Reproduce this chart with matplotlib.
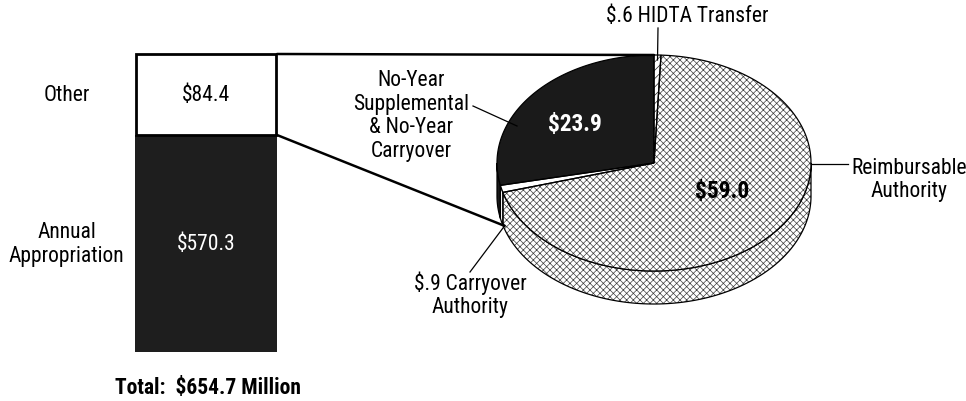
import numpy as np
import matplotlib
matplotlib.use("Agg")
import matplotlib.pyplot as plt
from matplotlib.patches import Polygon, ConnectionPatch
from matplotlib import font_manager

# ---------------- data ----------------
bar_labels = ["Annual\nAppropriation", "Other"]
bar_values = [570.3, 84.4]
bar_value_text = ["$570.3", "$84.4"]
total_text = "Total:  $654.7 Million"

pie_labels = ["$.6 HIDTA Transfer", "Reimbursable\nAuthority",
              "$.9 Carryover\nAuthority",
              "No-Year\nSupplemental\n& No-Year\nCarryover"]
pie_values = [0.6, 59.0, 0.9, 23.9]
pie_value_text = ["", "$59.0", "", "$23.9"]

# ---------------- style ----------------
names = {f.name for f in font_manager.fontManager.ttflist}
fam = "DejaVu Sans"
for cand in ["Roboto Condensed", "Archivo Narrow", "PT Sans Narrow",
             "Barlow Semi Condensed", "Liberation Sans"]:
    if cand in names:
        fam = cand
        break
plt.rcParams["font.family"] = [fam, "DejaVu Sans"]
plt.rcParams["hatch.linewidth"] = 0.5
FS = 15.5
FSB = 16.8
LS = 1.15

W, H = 966, 402
fig = plt.figure(figsize=(W / 100, H / 100), dpi=100)
ax0 = fig.add_axes([0, 0, 1, 1])
ax0.set_xlim(0, W)
ax0.set_ylim(H, 0)
ax0.axis("off")

# ---------------- stacked bar ----------------
annual, other = bar_values
total = sum(bar_values)
bx0, bx1, by0, by1 = 135, 277, 55, 353      # pixel box of the bar
split = 217.0 / 298.0                          # display share of bottom segment

def fwd(y):
    y = np.asarray(y, dtype=float)
    return np.where(y <= annual, y / annual * split,
                    split + (y - annual) / other * (1 - split))

def inv(z):
    z = np.asarray(z, dtype=float)
    return np.where(z <= split, z / split * annual,
                    annual + (z - split) / (1 - split) * other)

axb = fig.add_axes([bx0 / W, (H - by1) / H, (bx1 - bx0) / W, (by1 - by0) / H])
axb.set_yscale("function", functions=(fwd, inv))
axb.set_xlim(-0.5, 0.5)
axb.set_ylim(0, total)
axb.axis("off")
axb.bar(0, annual, width=1.0, color="#1e1e1e", edgecolor="#1e1e1e", linewidth=0)
axb.bar(0, other, bottom=annual, width=0.985, color="white", edgecolor="black",
        linewidth=2, clip_on=False)
axb.text(0, annual / 2, bar_value_text[0], ha="center", va="center",
         color="white", fontsize=FS)
axb.text(0, annual + other / 2, bar_value_text[1], ha="center", va="center",
         color="black", fontsize=FS)
# category labels left of the bar
axb.text(-0.98, annual / 2, bar_labels[0], ha="center", va="center",
         fontsize=FS, linespacing=LS)
axb.text(-0.98, annual + other / 2, bar_labels[1], ha="center", va="center",
         fontsize=FS)
ax0.text(115, 388, total_text, ha="left", va="center", fontsize=FS,
         fontweight="bold")

# ---------------- 3D pie ----------------
CX, CY, A, B, DEPTH = 654, 164, 157, 108, 33

def pts(t1, t2, dz=0.0, n=None):
    if n is None:
        n = max(2, int(abs(t2 - t1) * 2) + 2)
    t = np.radians(np.linspace(t1, t2, n))
    return np.column_stack([CX + A * np.cos(t), CY - B * np.sin(t) + dz])

ptot = sum(pie_values)
spans = []
cur = 90.0
for v in pie_values:
    t2 = cur
    t1 = cur - v / ptot * 360.0
    spans.append((t1, t2))
    cur = t1

styles = [
    dict(fc="white", hatch="////", hc="#222222"),
    dict(fc="white", hatch="xxxxx", hc="#404040"),
    dict(fc="white", hatch=None, hc=None),
    dict(fc="#1a1a1a", hatch=None, hc=None),
]

def add_poly(xy, st, z):
    ax0.add_patch(Polygon(xy, closed=True, facecolor=st["fc"],
                          edgecolor=st["hc"] if st["hatch"] else "none",
                          hatch=st["hatch"], linewidth=0, zorder=z))
    ax0.add_patch(Polygon(xy, closed=True, fill=False, edgecolor="black",
                          linewidth=0.9, zorder=z + 0.1))

# sides (front half only)
for (t1, t2), st in zip(spans, styles):
    for k in (-360.0, 0.0, 360.0):
        lo, hi = max(t1, -180.0 + k), min(t2, 0.0 + k)
        if hi > lo:
            top = pts(lo, hi)
            bot = pts(hi, lo, DEPTH)
            add_poly(np.vstack([top, bot]), st, 2)

# top faces
for (t1, t2), st in zip(spans, styles):
    xy = np.vstack([[CX, CY], pts(t1, t2)])
    add_poly(xy, st, 3)

ax0.text(722, 192, pie_value_text[1], ha="center", va="center", fontsize=FSB,
         fontweight="bold", color="black", zorder=5)
ax0.text(575, 124, pie_value_text[3], ha="center", va="center", fontsize=FSB,
         fontweight="bold", color="white", zorder=5)

# outside labels with leader lines
lw_lead = 0.9
# HIDTA
ax0.text(687, 17, pie_labels[0], ha="center", va="center", fontsize=FS)
hp = pts(*spans[0])
hx, hy = hp[len(hp) // 2]
ax0.plot([658, hx], [29, hy + 5], color="black", lw=lw_lead, zorder=6)
# Reimbursable
ax0.text(909, 180, pie_labels[1], ha="center", va="center", fontsize=FS,
         linespacing=LS)
ax0.plot([CX + A, 848], [CY + 1, CY + 1], color="black", lw=lw_lead, zorder=6)
# Carryover
ax0.text(470, 295, pie_labels[2], ha="center", va="center", fontsize=FS,
         linespacing=LS)
cm = (spans[2][0] + spans[2][1]) / 2
cx_, cy_ = pts(cm, cm, DEPTH, n=2)[0]
ax0.plot([470, cx_ + 3], [273, cy_ + 4], color="black", lw=lw_lead, zorder=6)
# No-Year
ax0.text(411, 116, pie_labels[3], ha="center", va="center", fontsize=FS,
         linespacing=LS)
ax0.plot([473, 517], [107, 127], color="black", lw=lw_lead, zorder=6)

# ---------------- connectors ----------------
top_pt = pts(90, 90, n=2)[0]
fig.add_artist(ConnectionPatch(xyA=(0.5, total), coordsA=axb.transData,
                               xyB=(top_pt[0], top_pt[1]), coordsB=ax0.transData,
                               color="black", lw=1.8))
fig.add_artist(ConnectionPatch(xyA=(0.5, annual), coordsA=axb.transData,
                               xyB=(cx_ + 3, cy_ + 4), coordsB=ax0.transData,
                               color="black", lw=1.8))

fig.savefig("out.png", dpi=100, facecolor="white")
